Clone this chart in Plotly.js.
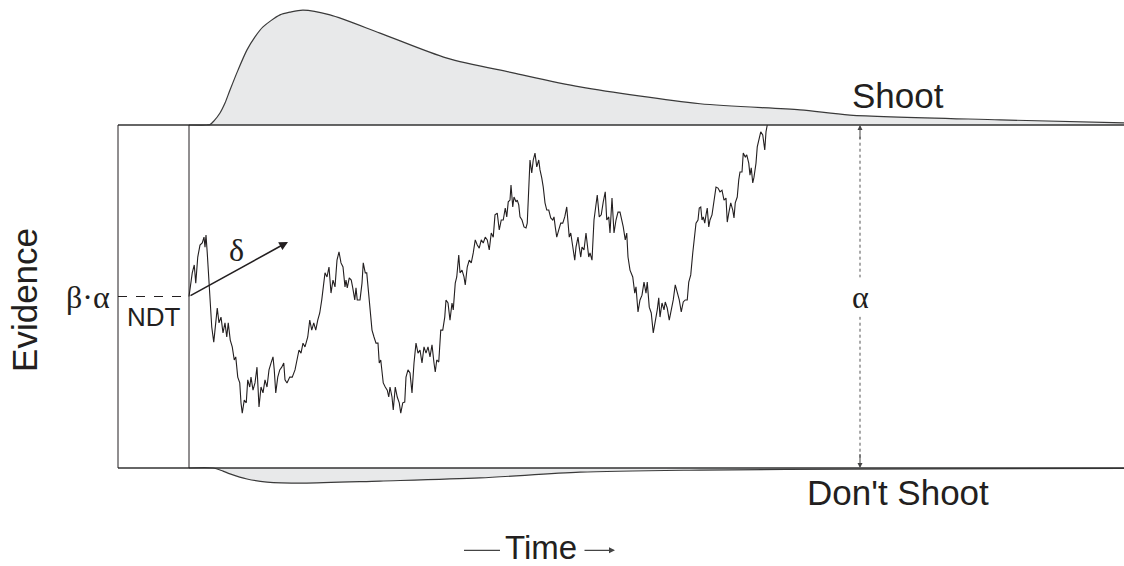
<!DOCTYPE html>
<html>
<head>
<meta charset="utf-8">
<script src="https://cdn.plot.ly/plotly-3.0.1.min.js"></script>
<style>html,body{margin:0;padding:0;background:#fff;}#chart{width:1124px;height:566px;}</style>
</head>
<body>
<div id="chart"></div>
<script>
// ---- Data (time in ms, evidence as a proportion of the boundary separation alpha) ----
var alpha = 1.0;
var beta = 0.5;
var ndt = 284;
var endTime = 4024;

var walkTime = [284,297,305,311,319,328,337,344,348,352,357,364,369,375,383,391,397,404,412,420,428,435,441,449,457,465,471,479,487,492,497,505,513,519,527,532,540,548,556,564,572,580,588,596,604,612,620,625,631,639,647,655,663,668,676,687,697,708,716,724,732,740,748,759,767,775,783,791,799,807,815,823,828,836,844,852,860,868,876,884,892,900,908,
912,917,925,933,939,947,952,957,968,976,981,989,995,1000,1005,1011,1016,1024,1032,1040,1045,1051,1056,1061,1069,1077,1083,1088,1096,1101,1109,1117,1125,1131,1139,1147,1152,1160,1168,1176,1184,1192,1200,1208,1216,1224,1232,1240,1248,1256,1264,1269,1275,1283,1291,1299,1307,1312,1320,1328,1336,1341,1349,1355,1363,1368,1376,1384,1389,1397,1405,1413,1421,1429,1437,1445,1453,1461,1469,1477,1485,1493,
1501,1508,1517,1525,1533,1541,1549,1555,1561,1568,1572,1579,1584,1592,1597,1603,1608,1616,1624,1632,1637,1643,1648,1655,1661,1668,1675,1683,1688,1695,1701,1708,1715,1723,1731,1739,1744,1749,1755,1763,1771,1779,1787,1795,1800,1805,1811,1819,1827,1832,1840,1845,1851,1856,1864,1872,1877,1883,1888,1896,1904,1912,1917,1925,1933,1941,1949,1955,1963,1968,1976,1984,1992,2000,2008,
2021,2029,2035,2040,2048,2059,2067,2072,2080,2088,2096,2104,2112,2117,2125,2133,2141,2149,2157,2163,2168,2176,2184,2189,2197,2205,2213,2221,2229,2237,2245,2253,2261,2269,2277,2283,2291,2299,2307,2312,2320,2325,2331,2336,2341,2347,2352,2357,2363,2368,2376,2384,2392,2400,2408,2416,2424,2432,2437,2443,2451,2459,2464,2469,2477,2483,2488,2496,2501,2509,2515,2523,2528,2533,2539,2544,2552,2557,2565,2571,2579,2587,2592,2597];

var walkEvidence = [0.5,0.569,0.592,0.539,0.615,0.650,0.656,0.673,0.644,0.679,0.627,0.548,0.481,0.411,0.367,0.431,0.466,0.423,0.440,0.394,0.423,0.382,0.423,0.373,0.353,0.315,0.324,0.265,0.248,0.190,0.160,0.198,0.190,0.257,0.236,0.265,0.227,0.248,0.294,0.178,0.236,0.219,0.257,0.236,0.286,0.306,0.324,0.286,0.219,0.265,0.286,0.294,0.306,0.257,0.248,0.265,0.265,0.286,0.315,0.344,0.335,0.364,0.353,0.382,0.431,0.402,0.423,0.402,0.431,0.452,0.490,0.548,0.569,0.557,0.586,0.510,0.548,0.528,0.606,0.630,0.598,0.586,0.528,
0.548,0.525,0.554,0.548,0.525,0.490,0.525,0.490,0.490,0.539,0.598,0.569,0.569,0.528,0.499,0.452,0.402,0.382,0.364,0.364,0.306,0.315,0.286,0.248,0.236,0.227,0.207,0.236,0.207,0.169,0.236,0.207,0.190,0.160,0.190,0.192,0.265,0.286,0.277,0.219,0.306,0.364,0.335,0.344,0.306,0.353,0.335,0.353,0.324,0.359,0.306,0.280,0.315,0.309,0.402,0.402,0.440,0.490,0.481,0.431,0.481,0.461,0.539,0.557,0.621,0.569,0.577,0.557,0.534,0.586,0.606,0.598,0.627,0.665,0.650,0.641,0.665,0.656,0.673,0.665,0.636,0.685,
0.673,0.738,0.743,0.694,0.723,0.723,0.758,0.732,0.776,0.781,0.825,0.761,0.790,0.776,0.781,0.767,0.732,0.723,0.703,0.700,0.714,0.840,0.898,0.860,0.898,0.918,0.878,0.898,0.869,0.846,0.819,0.773,0.752,0.752,0.729,0.723,0.732,0.703,0.673,0.694,0.714,0.714,0.732,0.761,0.714,0.673,0.685,0.644,0.606,0.644,0.673,0.644,0.615,0.644,0.636,0.685,0.644,0.615,0.627,0.606,0.723,0.773,0.796,0.732,0.738,0.776,0.805,0.723,0.732,0.685,0.787,0.685,0.723,0.746,0.746,
0.703,0.665,0.685,0.615,0.577,0.557,0.510,0.528,0.455,0.490,0.504,0.542,0.510,0.542,0.469,0.452,0.394,0.423,0.461,0.496,0.440,0.481,0.461,0.484,0.466,0.431,0.461,0.490,0.534,0.510,0.490,0.455,0.484,0.490,0.490,0.542,0.563,0.627,0.694,0.714,0.723,0.758,0.761,0.723,0.732,0.714,0.738,0.758,0.703,0.723,0.738,0.781,0.819,0.816,0.805,0.810,0.781,0.787,0.717,0.743,0.773,0.752,0.729,0.773,0.790,0.840,0.863,0.863,0.918,0.907,0.913,0.889,0.854,0.875,0.831,0.848,0.889,0.936,0.965,0.980,0.971,0.927,0.980,1.000];

// First-passage time densities (scaled heights in evidence units)
var upperTime = [284,356,368,384,408,428,448,480,516,548,580,648,688,740,848,1048,1316,1580,1848,2328,2728,2928,3528,4024];
var upperDens = [0,0,0.001,0.012,0.035,0.064,0.102,0.160,0.219,0.257,0.286,0.321,0.329,0.335,0.321,0.268,0.195,0.152,0.111,0.062,0.044,0.029,0.015,0.006];
var lowerTime = [284,380,420,448,516,596,740,1048,1448,1848,2328,2928,4024];
var lowerDens = [0,0,0.009,0.017,0.032,0.041,0.044,0.038,0.029,0.012,0.006,0.003,0.001];

// ---- Traces ----
var ink = '#231f20';
var fillGray = '#e8e9ea';
var traces = [
  {x: upperTime, y: upperTime.map(function(){return alpha;}), mode:'lines', line:{width:0}, hoverinfo:'skip'},
  {x: upperTime, y: upperDens.map(function(d){return alpha + d;}), mode:'lines', line:{color:'#3a3a3a', width:1.2, shape:'spline', smoothing:0.8}, fill:'tonexty', fillcolor:fillGray, hoverinfo:'skip'},
  {x: lowerTime, y: lowerTime.map(function(){return 0;}), mode:'lines', line:{width:0}, hoverinfo:'skip'},
  {x: lowerTime, y: lowerDens.map(function(d){return -d;}), mode:'lines', line:{color:'#3a3a3a', width:1.2, shape:'spline', smoothing:0.8}, fill:'tonexty', fillcolor:fillGray, hoverinfo:'skip'},
  {x: walkTime, y: walkEvidence, mode:'lines', line:{color:ink, width:1.1}, hoverinfo:'skip'}
];

var sans = 'Liberation Sans, Arial, Helvetica, sans-serif';
var serif = 'Liberation Serif, Times New Roman, serif';
var alphaX = 2968;

var shapes = [
  {type:'line', x0:0, x1:endTime, y0:alpha, y1:alpha, line:{color:'#333', width:1.4}},
  {type:'line', x0:0, x1:endTime, y0:0, y1:0, line:{color:'#333', width:1.4}},
  {type:'line', x0:0, x1:0, y0:0, y1:alpha, line:{color:ink, width:1}},
  {type:'line', x0:ndt, x1:ndt, y0:0, y1:alpha, line:{color:ink, width:1}},
  {type:'line', x0:0, x1:ndt, y0:beta*alpha, y1:beta*alpha, line:{color:ink, width:1, dash:'dash'}},
  {type:'line', x0:alphaX, x1:alphaX, y0:0.03, y1:0.97, line:{color:'#555', width:1, dash:'dot'}},
  {type:'line', x0:1384, x1:1528, y0:-0.24, y1:-0.24, line:{color:'#444', width:1.2}}
];

var annotations = [
  {x:680, y:0.659, ax:ndt, ay:beta*alpha, axref:'x', ayref:'y', xref:'x', yref:'y', text:'', showarrow:true, arrowhead:2, arrowsize:1.1, arrowwidth:1.6, arrowcolor:ink, standoff:0, startstandoff:0},
  {x:alphaX, y:1.0, ax:alphaX, ay:0.955, axref:'x', ayref:'y', text:'', showarrow:true, arrowhead:2, arrowsize:1, arrowwidth:1, arrowcolor:'#444', standoff:0},
  {x:alphaX, y:0.0, ax:alphaX, ay:0.045, axref:'x', ayref:'y', text:'', showarrow:true, arrowhead:2, arrowsize:1, arrowwidth:1, arrowcolor:'#444', standoff:0},
  {x:1988, y:-0.24, ax:1860, ay:-0.24, axref:'x', ayref:'y', text:'', showarrow:true, arrowhead:2, arrowsize:1, arrowwidth:1.2, arrowcolor:'#444', standoff:0},
  {x:472, y:0.636, text:'δ', showarrow:false, font:{family:serif, size:32, color:ink}},
  {x:-24, y:0.5, xanchor:'right', text:'β·α', showarrow:false, font:{family:serif, size:32, color:ink}},
  {x:144, y:0.44, text:'NDT', showarrow:false, font:{family:sans, size:26, color:ink}},
  {x:alphaX, y:0.5, text:'α', showarrow:false, bgcolor:'#ffffff', font:{family:serif, size:32, color:ink}},
  {x:3120, y:1.085, text:'Shoot', showarrow:false, font:{family:sans, size:35, color:ink}},
  {x:3120, y:-0.072, text:"Don't Shoot", showarrow:false, font:{family:sans, size:35, color:ink}},
  {x:-372, y:0.49, text:'Evidence', textangle:-90, showarrow:false, font:{family:sans, size:35, color:ink}},
  {x:1540, y:-0.232, xanchor:'left', text:'Time', showarrow:false, font:{family:sans, size:33, color:ink}}
];

var layout = {
  width:1124, height:566,
  margin:{l:0, r:0, t:0, b:0, pad:0},
  paper_bgcolor:'#ffffff', plot_bgcolor:'#ffffff',
  showlegend:false,
  xaxis:{range:[-472, endTime], visible:false, fixedrange:true},
  yaxis:{range:[-0.2857, 1.3644], visible:false, fixedrange:true},
  shapes:shapes,
  annotations:annotations
};

Plotly.newPlot('chart', traces, layout, {staticPlot:true, displayModeBar:false});
</script>
</body>
</html>
